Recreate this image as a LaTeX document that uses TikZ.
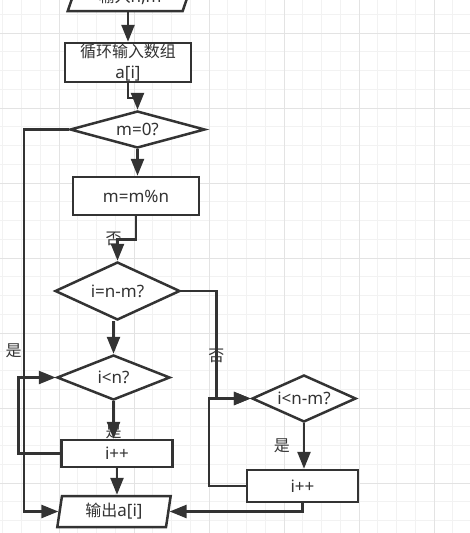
\documentclass[tikz,border=0pt]{standalone}
\usepackage{fontspec}
\setmainfont{Noto Sans}
\newfontfamily\cjk{Noto Sans CJK SC}[Scale=0.94]
\usepackage{tikz}
\usetikzlibrary{arrows.meta}
\usetikzlibrary{shapes.geometric,positioning}
\definecolor{linegray}{HTML}{333333}
\definecolor{minorgrid}{HTML}{F2F2F2}
\definecolor{majorgrid}{HTML}{E3E3E3}

\begin{document}
\begin{tikzpicture}[x=1pt,y=-1pt,>={Triangle[length=17pt,width=13pt]},
                    line width=2.5pt,color=linegray,font=\fontsize{17}{21}\selectfont,
                    proc node/.style={rectangle,draw,fill=white,inner sep=0pt},
                    dec node/.style={diamond,draw,fill=white,aspect=2.5,inner sep=0pt},
                    io node/.style={trapezium,draw,fill=white,trapezium stretches=true,inner sep=0pt},
                    lbl/.style={inner sep=1pt}]

      \useasboundingbox (0,0) rectangle (470,533);
      \foreach \x in {2.75,21.5,...,470} \draw[minorgrid,line width=1pt] (\x,0) -- (\x,533);
      \foreach \y in {14.25,33,...,533} \draw[minorgrid,line width=1pt] (0,\y) -- (470,\y);
      \foreach \x in {59,134,...,434} \draw[majorgrid,line width=1pt] (\x,0) -- (\x,533);
      \foreach \y in {33,108,...,483} \draw[majorgrid,line width=1pt] (0,\y) -- (470,\y);

      \node[io node,trapezium left angle=70,trapezium right angle=110,
            minimum width=125pt,minimum height=28pt] (1) at (130,-3) {{\cjk 输入}n,m};
      \node[proc node,minimum width=126pt,minimum height=39pt,align=center] (2) at (128,62.5) {{\cjk 循环输入数组}\\a[i]};
      \node[dec node,minimum width=135pt,minimum height=37pt] (3) at (137.5,129.5) {m=0?};
      \node[proc node,minimum width=126pt,minimum height=38pt] (4) at (136,196) {m=m\%n};
      \node[dec node,minimum width=125pt,minimum height=58pt] (5) at (117.5,291) {i=n-m?};
      \node[dec node,minimum width=113pt,minimum height=45pt] (6) at (113.5,377.5) {i<n?};
      \node[proc node,minimum width=111pt,minimum height=27pt] (7) at (117,453.5) {i++};
      \node[dec node,minimum width=104pt,minimum height=47pt] (8) at (304,398.5) {i<n-m?};
      \node[proc node,minimum width=111pt,minimum height=32pt] (9) at (302.5,486) {i++};
      \node[io node,trapezium left angle=81,trapezium right angle=99,
            minimum width=114pt,minimum height=31pt] (10) at (114,511.5) {{\cjk 输出}a[i]};

      \draw[->] (2.north |- 1.south) -- (2.north);
      \draw[->] (2.south) -- ++(0,14.5) -| (3.north);
      \draw[->] (3.south) -- (3.south |- 4.north);
      \draw[->] (4.south) -- ++(0,23) -| node[lbl,pos=0.5,xshift=-4pt] {\cjk 否} (5.north);
      \draw[->] (5.east) -- ++(35,0) |- node[lbl,pos=0.3] {\cjk 否} (8.west);
      \draw[->] (6.north |- 5.south) -- (6.north);
      \draw[->] (6.south) -- node[lbl,pos=0.82] {\cjk 是} (6.south |- 7.north);
      \draw[->] (7.west) -- ++(-42,0) |- (6.west);
      \draw[->] (7.south) -- (7.south |- 10.north);
      \draw[->] (3.west) -- ++(-45,0) |- node[lbl,pos=0.29,left] {\cjk 是} (10.west);
      \draw[->] (8.south) -- node[lbl,left,xshift=-12pt] {\cjk 是} (8.south |- 9.north);
      \draw[->] (9.west) -- ++(-37,0) |- (8.west);
      \draw[->] (9.south) |- (10.east);
    \end{tikzpicture}
\end{document}
